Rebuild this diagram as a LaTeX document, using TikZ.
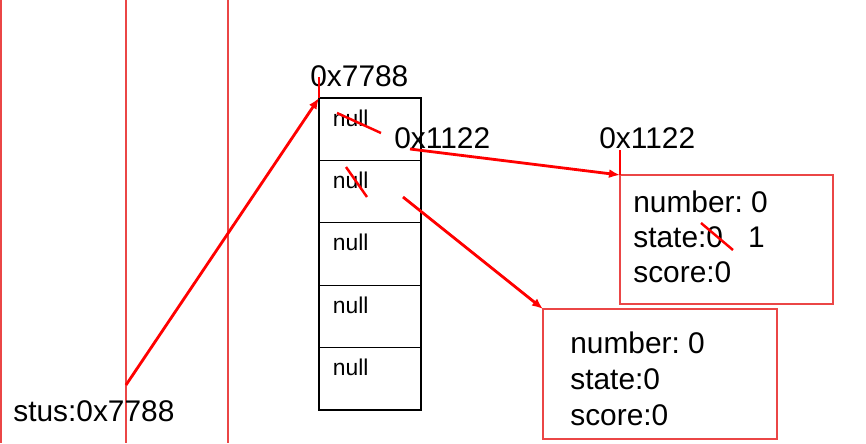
\documentclass[tikz,border=0pt]{standalone}
\usepackage{fontspec}
\setmainfont{Liberation Sans}
\usetikzlibrary{positioning,arrows.meta}
\definecolor{ptrRed}{RGB}{255,0,0}
\definecolor{laneRed}{RGB}{235,70,70}
\tikzset{
    base/.style={font=\fontsize{17}{19.8}\selectfont\frenchspacing, inner sep=0pt, text=black},
    cell/.style={rectangle, draw=black, line width=0.6pt, minimum width=2.04cm,
                 minimum height=1.248cm, inner sep=0pt, outer sep=0pt},
    nulltxt/.style={font=\fontsize{13}{15}\selectfont, inner sep=0pt},
    objbox/.style={rectangle, draw=laneRed, line width=0.9pt, inner sep=0pt, outer sep=0pt},
    fields/.style={base, align=left},
    lane/.style={draw=laneRed, line width=0.7pt},
    ptr/.style={draw=ptrRed, line width=1.6pt},
    flow/.style={ptr, -{Latex[length=2.2mm, width=1.8mm]}},
    strike/.style={draw=ptrRed, line width=1.4pt}
}
\begin{document}
\begin{tikzpicture}[x=0.2mm, y=-0.2mm]
  \useasboundingbox (0,0) rectangle (866,443);

  % stack lanes
  \draw[lane] (1,0) -- (1,443);
  \draw[lane] (126,0) -- (126,443);
  \draw[lane] (228,0) -- (228,443);

  % array of references
  \node[cell] (c1) at (370,129.2) {};
  \node[cell, below=0pt of c1] (c2) {};
  \node[cell, below=0pt of c2] (c3) {};
  \node[cell, below=0pt of c3] (c4) {};
  \node[cell, below=0pt of c4] (c5) {};
  \node[nulltxt, anchor=base west] (n1) at ([xshift=0.27cm, yshift=-0.56cm]c1.north west) {null};
  \node[nulltxt, anchor=base west] (n2) at ([xshift=0.27cm, yshift=-0.56cm]c2.north west) {null};
  \node[nulltxt, anchor=base west] (n3) at ([xshift=0.27cm, yshift=-0.56cm]c3.north west) {null};
  \node[nulltxt, anchor=base west] (n4) at ([xshift=0.27cm, yshift=-0.56cm]c4.north west) {null};
  \node[nulltxt, anchor=base west] (n5) at ([xshift=0.27cm, yshift=-0.56cm]c5.north west) {null};

  % objects
  \node[objbox, minimum width=4.26cm, minimum height=2.58cm] (obj1) at (726.5,239.5) {};
  \node[fields, anchor=north west] (f1) at ([xshift=0.26cm, yshift=-0.31cm]obj1.north west)
    {number: 0\\state:0\hspace{0.5cm}1\\score:0};
  \node[objbox, minimum width=4.68cm, minimum height=2.6cm] (obj2) at (660,374) {};
  \node[fields, anchor=north west, font=\fontsize{17}{20.6}\selectfont\frenchspacing] (f2)
    at ([xshift=0.54cm, yshift=-0.45cm]obj2.north west) {number: 0\\state:0\\score:0};

  % addresses
  \node[base, anchor=base west] (addrArr) at (310,86) {0x7788};
  \node[base, anchor=base west] (addrIn) at (394,148) {0x1122};
  \node[base, anchor=base west] (addrObj) at (599,148) {0x1122};
  \node[base, anchor=base west] (stus) at (13,421.5) {stus:0x7788};

  % pointers
  \coordinate (p0) at (126,385);
  \coordinate (p1) at (410,149);
  \coordinate (p2) at (403,197);
  \draw[flow] (p0) -- (c1.north west);
  \draw[ptr] (c1.north west) -- ++(0,-21);
  \draw[flow] (p1) -- (obj1.north west);
  \draw[ptr] (obj1.north west) -- ++(0,-25);
  \draw[flow] (p2) -- (obj2.north west);

  % crossed out values
  \draw[strike] (337,113) -- (381,133);
  \draw[strike] (346,167) -- (367,197);
  \draw[strike] (701,223) -- (733,250);
\end{tikzpicture}
\end{document}
